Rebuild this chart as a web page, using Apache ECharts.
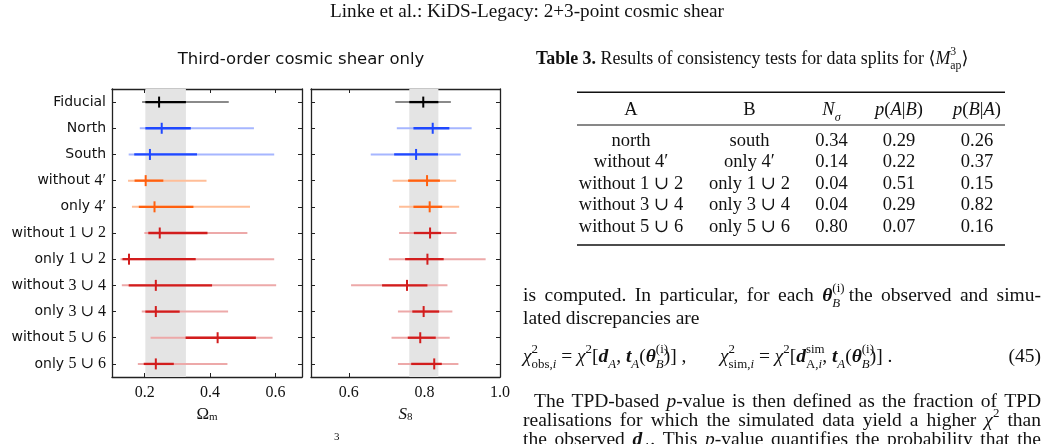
<!DOCTYPE html>
<html>
<head>
<meta charset="utf-8">
<script src="https://cdn.jsdelivr.net/npm/echarts@6/dist/echarts.min.js"></script>
<style>
html, body { margin: 0; padding: 0; background: #fff; }
#main { width: 1053px; height: 444px; }
</style>
</head>
<body>
<div id="main"></div>
<script>
// rows of the whisker plot, top to bottom
var rowLabels = ['Fiducial', 'North', 'South', 'without 4′', 'only 4′', 'without 1 ∪ 2', 'only 1 ∪ 2',
    'without 3 ∪ 4', 'only 3 ∪ 4', 'without 5 ∪ 6', 'only 5 ∪ 6'];
var rowGroup = ['fid', 'blue', 'blue', 'orange', 'orange', 'red', 'red', 'red', 'red', 'red', 'red'];

// Omega_m : best value, 68% and 95% ranges
var omMean = [0.244, 0.252, 0.216, 0.203, 0.230, 0.246, 0.152, 0.234, 0.234, 0.423, 0.234];
var omLo68 = [0.202, 0.202, 0.168, 0.169, 0.182, 0.211, 0.132, 0.151, 0.202, 0.325, 0.197];
var omHi68 = [0.326, 0.341, 0.360, 0.257, 0.349, 0.392, 0.356, 0.406, 0.307, 0.540, 0.289];
var omLo95 = [0.192, 0.185, 0.151, 0.149, 0.161, 0.199, 0.126, 0.130, 0.191, 0.218, 0.179];
var omHi95 = [0.457, 0.534, 0.596, 0.389, 0.522, 0.514, 0.596, 0.602, 0.455, 0.591, 0.453];

// S_8
var s8Mean = [0.797, 0.822, 0.778, 0.807, 0.814, 0.815, 0.808, 0.754, 0.798, 0.789, 0.826];
var s8Lo68 = [0.760, 0.771, 0.720, 0.757, 0.771, 0.772, 0.749, 0.688, 0.768, 0.756, 0.765];
var s8Hi68 = [0.837, 0.866, 0.836, 0.841, 0.847, 0.844, 0.851, 0.808, 0.839, 0.830, 0.846];
var s8Lo95 = [0.723, 0.727, 0.658, 0.716, 0.733, 0.733, 0.706, 0.606, 0.730, 0.713, 0.730];
var s8Hi95 = [0.870, 0.925, 0.896, 0.884, 0.892, 0.885, 0.962, 0.861, 0.874, 0.867, 0.890];

var omTicks = [0.2, 0.4, 0.6];
var s8Ticks = [0.6, 0.8, 1.0];

// Table 3
var tabA = ['north', 'without 4′', 'without 1 ∪ 2', 'without 3 ∪ 4', 'without 5 ∪ 6'];
var tabB = ['south', 'only 4′', 'only 1 ∪ 2', 'only 3 ∪ 4', 'only 5 ∪ 6'];
var tabNsig = ['0.34', '0.14', '0.04', '0.04', '0.80'];
var tabPAB = ['0.29', '0.22', '0.51', '0.29', '0.07'];
var tabPBA = ['0.26', '0.37', '0.15', '0.82', '0.16'];

var groupColors = {
    fid: { dark: '#000000', light: '#8a8a8a' },
    blue: { dark: '#1f48ff', light: '#a6b6ff' },
    orange: { dark: '#ff600f', light: '#ffbe98' },
    red: { dark: '#d21d1d', light: '#eda9a9' }
};

var SERIF = '"Liberation Serif", "DejaVu Serif", serif';
var SANS = '"DejaVu Sans", sans-serif';
var INK = '#111';
var FRAME = '#222';

var chart = echarts.init(document.getElementById('main'));

function rowData(lo95, hi95, lo68, hi68, mean) {
    return rowLabels.map(function (l, i) {
        return [lo95[i], hi95[i], lo68[i], hi68[i], mean[i], i];
    });
}

function renderRow(params, api) {
    var idx = api.value(5);
    var y = api.coord([api.value(4), idx])[1];
    var a95 = api.coord([api.value(0), idx])[0];
    var b95 = api.coord([api.value(1), idx])[0];
    var a68 = api.coord([api.value(2), idx])[0];
    var b68 = api.coord([api.value(3), idx])[0];
    var xm = api.coord([api.value(4), idx])[0];
    var c = groupColors[rowGroup[idx]];
    return {
        type: 'group',
        children: [
            { type: 'line', shape: { x1: a95, y1: y, x2: b95, y2: y }, style: { stroke: c.light, lineWidth: 2 } },
            { type: 'line', shape: { x1: a68, y1: y, x2: b68, y2: y }, style: { stroke: c.dark, lineWidth: 2.3 } },
            { type: 'line', shape: { x1: xm, y1: y - 5.5, x2: xm, y2: y + 5.5 }, style: { stroke: c.dark, lineWidth: 2 } }
        ]
    };
}

// grey band = fiducial 68% range, full panel height
function renderBand(params, api) {
    var x0 = api.coord([api.value(0), 0])[0];
    var x1 = api.coord([api.value(1), 0])[0];
    var cs = params.coordSys;
    return { type: 'rect', shape: { x: x0, y: cs.y, width: x1 - x0, height: cs.height },
        style: { fill: '#e4e4e4' } };
}

function xAx(grid, pos, min, max, ticks, name) {
    return {
        type: 'value', gridIndex: grid, position: pos, min: min, max: max,
        name: name || '', nameLocation: 'middle', nameGap: 27,
        nameTextStyle: {
            fontFamily: SERIF, fontSize: 17, color: INK,
            rich: {
                o: { fontFamily: SERIF, fontSize: 17, color: INK },
                i: { fontFamily: SERIF, fontSize: 17, fontStyle: 'italic', color: INK },
                s: { fontFamily: SERIF, fontSize: 11, color: INK, verticalAlign: 'bottom', padding: [6, 0, 0, 0] }
            }
        },
        splitLine: { show: false },
        axisLine: { show: true, onZero: false, lineStyle: { color: FRAME, width: 1.3 } },
        axisTick: { show: true, inside: true, length: 4, customValues: ticks, lineStyle: { color: FRAME, width: 1 } },
        axisLabel: { show: pos === 'bottom', customValues: ticks, margin: 8, fontFamily: SERIF, fontSize: 16, color: INK,
            formatter: function (v) { return v.toFixed(1); } }
    };
}

function yAx(grid, pos, showLabel) {
    return {
        type: 'category', gridIndex: grid, position: pos, inverse: true, data: rowLabels,
        axisLine: { show: true, onZero: false, lineStyle: { color: FRAME, width: 1.3 } },
        axisTick: { show: true, inside: true, alignWithLabel: true, length: 4, lineStyle: { color: FRAME, width: 1 } },
        splitLine: { show: false },
        axisLabel: {
            show: showLabel, margin: 6, fontFamily: SANS, fontSize: 14, color: INK,
            formatter: function (v) { return v.replace(/([0-9].*)$/, '{m|$1}'); },
            rich: { m: { fontFamily: SERIF, fontSize: 16, color: INK } }
        }
    };
}

// ---- text of the page around the figure ----
function makeRich(size) {
    var small = Math.round(size * 0.66 * 10) / 10;
    return {
        i: { fontFamily: SERIF, fontSize: size, fontStyle: 'italic', color: INK },
        b: { fontFamily: SERIF, fontSize: size, fontStyle: 'italic', fontWeight: 'bold', color: INK },
        bd: { fontFamily: SERIF, fontSize: size, fontWeight: 'bold', color: INK },
        sup: { fontFamily: SERIF, fontSize: small, color: INK, verticalAlign: 'top' },
        supz: { fontFamily: SERIF, fontSize: small, color: INK, verticalAlign: 'top', width: 0 },
        sub: { fontFamily: SERIF, fontSize: small, color: INK, verticalAlign: 'bottom' },
        subi: { fontFamily: SERIF, fontSize: small, fontStyle: 'italic', color: INK, verticalAlign: 'bottom' }
    };
}

function txt(x, y, text, size, align, extra) {
    var st = {
        text: text, x: x, y: y, fill: INK, fontFamily: SERIF, fontSize: size,
        align: align || 'left', textAlign: align || 'left', verticalAlign: 'middle', textVerticalAlign: 'middle',
        lineHeight: size * 1.45, rich: makeRich(size)
    };
    if (extra) { for (var k in extra) st[k] = extra[k]; }
    return { type: 'text', silent: true, style: st };
}

// measure a rich string so that body lines can be justified like the page
var measCtx = document.createElement('canvas').getContext('2d');
function measure(str, size) {
    var rich = makeRich(size);
    var re = /\{(\w+)\|([^}]*)\}/g, last = 0, m, parts = [];
    while ((m = re.exec(str))) {
        if (m.index > last) parts.push([null, str.slice(last, m.index)]);
        parts.push([m[1], m[2]]);
        last = re.lastIndex;
    }
    if (last < str.length) parts.push([null, str.slice(last)]);
    var w = 0;
    parts.forEach(function (p) {
        var s = p[0] ? rich[p[0]] : { fontSize: size };
        if (s.width === 0) return;
        measCtx.font = (s.fontStyle || 'normal') + ' ' + (s.fontWeight || 'normal') + ' ' + s.fontSize + 'px ' + SERIF;
        w += measCtx.measureText(p[1]).width;
    });
    return w;
}

var graphics = [];
function justified(x0, x1, y, line, size) {
    var words = line.split(' ');
    var widths = words.map(function (w) { return measure(w, size); });
    var total = widths.reduce(function (a, b) { return a + b; }, 0);
    var gap = (x1 - x0 - total) / (words.length - 1);
    var x = x0;
    words.forEach(function (w, k) {
        graphics.push(txt(x, y, w, size, 'left'));
        x += widths[k] + gap;
    });
}

var BODY = 19.5;
graphics.push(txt(527, 12, 'Linke et al.: KiDS-Legacy: 2+3-point cosmic shear', 19.2, 'center'));
graphics.push(txt(301, 60, 'Third-order cosmic shear only', 16.5, 'center', { fontFamily: SANS }));
graphics.push(txt(334, 437, '3', 11, 'left'));

graphics.push(txt(536, 59, '{bd|Table 3.} Results of consistency tests for data splits for ⟨{i|M}{supz|3}{sub|ap}⟩', 17.9, 'left'));

var tabLeft = 577, tabRight = 1005;
var colX = [631, 749.5, 831.5, 899, 977];
var rowY0 = 140.7, rowStep = 21.5;
graphics.push({ type: 'line', silent: true, shape: { x1: tabLeft, y1: 92.3, x2: tabRight, y2: 92.3 }, style: { stroke: INK, lineWidth: 1.6 } });
graphics.push({ type: 'line', silent: true, shape: { x1: tabLeft, y1: 125, x2: tabRight, y2: 125 }, style: { stroke: INK, lineWidth: 1 } });
graphics.push({ type: 'line', silent: true, shape: { x1: tabLeft, y1: 245, x2: tabRight, y2: 245 }, style: { stroke: INK, lineWidth: 1.6 } });
var tabHead = ['A', 'B', '{i|N}{subi|σ}', '{i|p}({i|A}|{i|B})', '{i|p}({i|B}|{i|A})'];
tabHead.forEach(function (h, j) { graphics.push(txt(colX[j], 110, h, 18.5, 'center')); });
[tabA, tabB, tabNsig, tabPAB, tabPBA].forEach(function (col, j) {
    col.forEach(function (v, r) { graphics.push(txt(colX[j], rowY0 + r * rowStep, v, 18.5, 'center')); });
});

justified(523, 1041, 296, 'is computed. In particular, for each {b|θ}{supz|(i)}{subi|B} the observed and simu-', BODY);
graphics.push(txt(523, 319, 'lated discrepancies are', BODY, 'left'));
graphics.push(txt(523, 357, '{i|χ}{supz|2}{sub|obs,}{subi|i} = {i|χ}{sup|2}[{b|d}{subi|A}, {b|t}{subi|A}({b|θ}{supz|(i)}{subi|B})] ,', BODY, 'left'));
graphics.push(txt(720, 357, '{i|χ}{supz|2}{sub|sim,}{subi|i} = {i|χ}{sup|2}[{b|d}{supz|sim}{sub|A,}{subi|i}, {b|t}{subi|A}({b|θ}{supz|(i)}{subi|B})] .', BODY, 'left'));
graphics.push(txt(1041, 357, '(45)', BODY, 'right'));
justified(534, 1041, 402, 'The TPD-based {i|p}-value is then defined as the fraction of TPD', BODY);
justified(523, 1041, 421, 'realisations for which the simulated data yield a higher {i|χ}{sup|2} than', BODY);
justified(523, 1041, 440, 'the observed {b|d}{subi|A}. This {i|p}-value quantifies the probability that the', BODY);

var option = {
    backgroundColor: '#fff',
    animation: false,
    grid: [
        { left: 112, top: 89, width: 190, height: 288 },
        { left: 311, top: 89, width: 189, height: 288 }
    ],
    xAxis: [
        xAx(0, 'bottom', 0.1, 0.681, omTicks, '{o|Ω}{s|m}'),
        xAx(0, 'top', 0.1, 0.681, omTicks),
        xAx(1, 'bottom', 0.5, 1.0, s8Ticks, '{i|S}{s|8}'),
        xAx(1, 'top', 0.5, 1.0, s8Ticks)
    ],
    yAxis: [
        yAx(0, 'left', true),
        yAx(0, 'right', false),
        yAx(1, 'left', false),
        yAx(1, 'right', false)
    ],
    series: [
        { type: 'custom', xAxisIndex: 0, yAxisIndex: 0, z: 1, silent: true, renderItem: renderBand,
            data: [[omLo68[0], omHi68[0]]], encode: { x: [0, 1] } },
        { type: 'custom', xAxisIndex: 2, yAxisIndex: 2, z: 1, silent: true, renderItem: renderBand,
            data: [[s8Lo68[0], s8Hi68[0]]], encode: { x: [0, 1] } },
        { type: 'custom', xAxisIndex: 0, yAxisIndex: 0, z: 3, silent: true, renderItem: renderRow,
            data: rowData(omLo95, omHi95, omLo68, omHi68, omMean), encode: { x: [0, 1, 2, 3, 4], y: 5 } },
        { type: 'custom', xAxisIndex: 2, yAxisIndex: 2, z: 3, silent: true, renderItem: renderRow,
            data: rowData(s8Lo95, s8Hi95, s8Lo68, s8Hi68, s8Mean), encode: { x: [0, 1, 2, 3, 4], y: 5 } }
    ],
    graphic: graphics
};
chart.setOption(option);
</script>
</body>
</html>
